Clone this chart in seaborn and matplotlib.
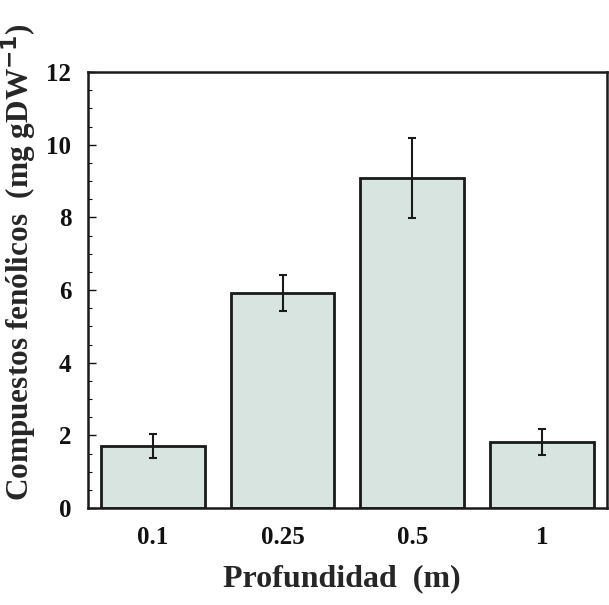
import numpy as np
import pandas as pd
import matplotlib
matplotlib.use("Agg")
import matplotlib.pyplot as plt
import seaborn as sns
from matplotlib.ticker import MultipleLocator

depths = ["0.1", "0.25", "0.5", "1"]
phenolics = [1.71, 5.92, 9.08, 1.82]
phenolics_err = [0.34, 0.50, 1.10, 0.35]

df = pd.DataFrame({"depth": depths, "value": phenolics})

sns.set_style("white")
plt.rcParams["font.family"] = ["Liberation Serif", "DejaVu Serif"]
plt.rcParams["font.weight"] = "bold"
plt.rcParams["text.color"] = "#111111"
plt.rcParams["xtick.color"] = "#111111"
plt.rcParams["ytick.color"] = "#111111"

fig = plt.figure(figsize=(6.09, 6.05), dpi=100)
ax = fig.add_axes([0.1445, 0.160, 0.852, 0.721])

sns.barplot(data=df, x="depth", y="value", color="#d7e4df", saturation=1,
            width=0.8, edgecolor="#1a1a1a", linewidth=2, errorbar=None, ax=ax)
ax.errorbar(np.arange(len(depths)), phenolics, yerr=phenolics_err, fmt="none",
            ecolor="#1a1a1a", elinewidth=1.5, capsize=3, capthick=1.5)

ax.set_xlim(-0.5, 3.5)
ax.set_ylim(0, 12)
ax.yaxis.set_major_locator(MultipleLocator(2))
ax.yaxis.set_minor_locator(MultipleLocator(0.5))
ax.tick_params(axis="y", which="major", direction="in", length=6, width=1,
               labelsize=18, pad=12, left=True)
ax.tick_params(axis="y", which="minor", direction="in", length=3, width=0.8, left=True)
ax.tick_params(axis="x", length=0, labelsize=18, pad=13)
for lab in ax.get_xticklabels() + ax.get_yticklabels():
    lab.set_fontweight("bold")

for s in ax.spines.values():
    s.set_visible(True)
    s.set_color("#1a1a1a")
    s.set_linewidth(1.8)

ax.set_xlabel("Profundidad  (m)", fontsize=23, fontweight="bold")
ax.set_ylabel("Compuestos fenólicos  (mg gDW$^{\\mathbf{-1}}$)", fontsize=22.5,
              fontweight="bold")
ax.xaxis.set_label_coords(0.49, -0.128)
ax.yaxis.set_label_coords(-0.094, 0.565)

fig.savefig("out.png", dpi=100, facecolor="white")
